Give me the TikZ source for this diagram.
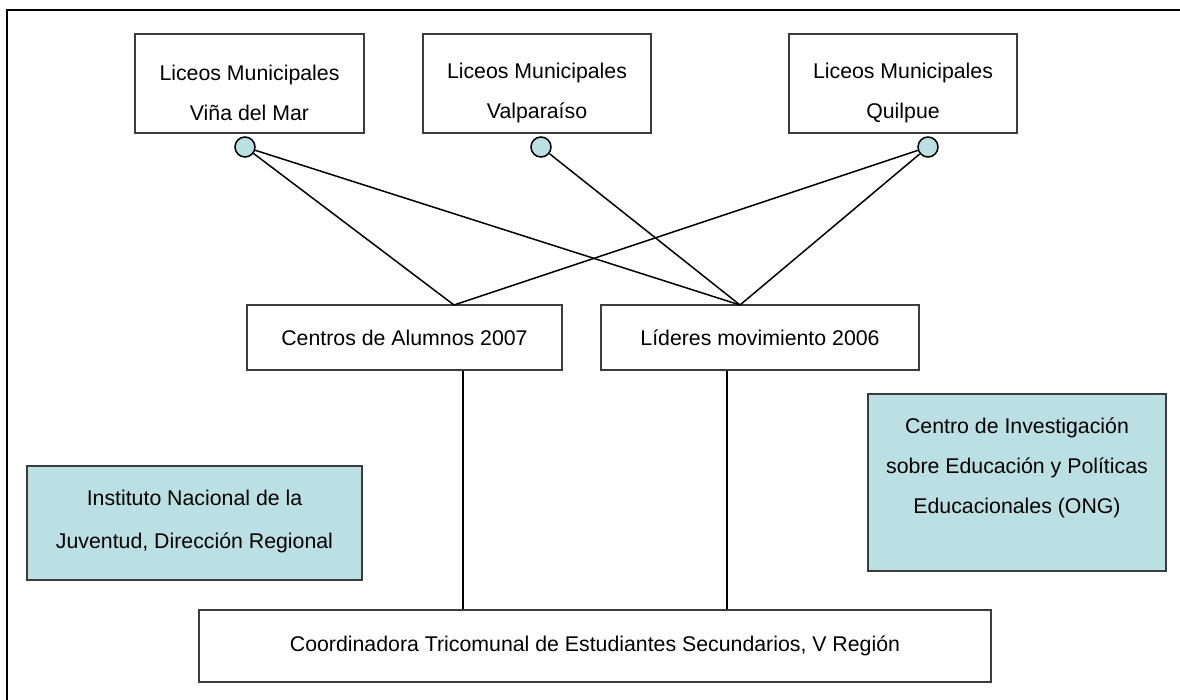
\documentclass[tikz,border=0pt]{standalone}
\usepackage{fontspec}
\setmainfont{Liberation Sans}
\usetikzlibrary{calc}
\definecolor{tur}{RGB}{187, 224, 227}
\definecolor{lin}{RGB}{60, 60, 60}

\begin{document}
\begin{tikzpicture}[x=1pt, y=-1pt,
    box/.style={draw=lin, line width=1.3pt, inner sep=0pt, fill=white},
    fbox/.style={box, fill=tur},
    txt/.style={align=center, inner sep=0pt, font=\fontsize{21.3}{40}\selectfont},
    dot/.style={circle, draw=black, line width=1.5pt, fill=tur, minimum size=20pt, inner sep=0pt},
    con/.style={draw=black, line width=1.5pt}]
      \useasboundingbox (0, 0) rectangle (1180, 700);
      \draw[line width=2.2pt] (7, 710) -- (7, 10) -- (1190, 10);
      % schools
      \node[box, minimum width=229pt, minimum height=99pt] (a) at (249.5, 83.5) {};
      \node[box, minimum width=228pt, minimum height=99pt] (b) at (537, 83.5) {};
      \node[box, minimum width=228pt, minimum height=99pt] (c) at (903, 83.5) {};
      \node[txt] (ta) at ([yshift=-9.5pt]a.center) {Liceos Municipales\\Viña del Mar};
      \node[txt] (tb) at ([yshift=-9.5pt]b.center) {Liceos Municipales\\Valparaíso};
      \node[txt] (tc) at ([yshift=-9.5pt]c.center) {Liceos Municipales\\Quilpue};
      % student groups
      \node[box, minimum width=315pt, minimum height=65pt, font=\fontsize{21.3}{26}\selectfont] (d) at (404.5, 337.5) {Centros de Alumnos 2007};
      \node[box, minimum width=318pt, minimum height=65pt, font=\fontsize{21.3}{26}\selectfont] (e) at (760, 337.5) {Líderes movimiento 2006};
      \coordinate (pd) at (454, 305);
      \coordinate (pe) at (740, 305);
      % circles and links
      \node[dot] (ca) at (245, 147) {};
      \node[dot] (cb) at (541, 147) {};
      \node[dot] (cc) at (928, 147) {};
      \draw[con] (ca) -- (pd);
      \draw[con] (ca) -- (pe);
      \draw[con] (cb) -- (pe);
      \draw[con] (cc) -- (pd);
      \draw[con] (cc) -- (pe);
      % side boxes
      \node[fbox, minimum width=335pt, minimum height=114pt] (f) at (194.5, 523) {};
      \node[txt, font=\fontsize{21.3}{43}\selectfont] (tf) at ([yshift=1.5pt]f.center) {Instituto Nacional de la\\Juventud, Dirección Regional};
      \node[fbox, minimum width=298pt, minimum height=177pt] (g) at (1017, 482.5) {};
      \node[txt] (tg) at ([yshift=14.5pt]g.center) {Centro de Investigación\\sobre Educación y Políticas\\Educacionales (ONG)};
      % coordinadora
      \node[box, minimum width=792pt, minimum height=72pt, font=\fontsize{21.3}{26}\selectfont] (k) at (595, 646) {Coordinadora Tricomunal de Estudiantes Secundarios, V Región};
      \coordinate (v1) at (463, 0);
      \coordinate (v2) at (727, 0);
      \draw[con] (d.south -| v1) -- (k.north -| v1);
      \draw[con] (e.south -| v2) -- (k.north -| v2);
    \end{tikzpicture}
\end{document}
